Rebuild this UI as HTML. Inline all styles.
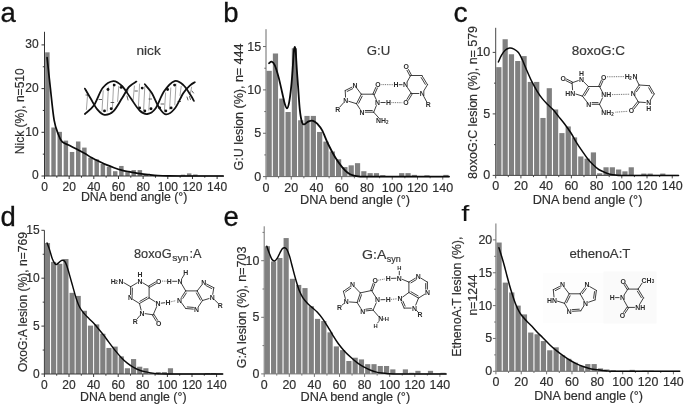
<!DOCTYPE html>
<html lang="en"><head><meta charset="utf-8"><title>DNA bend angle distributions</title>
<style>
html,body{margin:0;padding:0;background:#fff;}
body{width:685px;height:405px;overflow:hidden;font-family:"Liberation Sans",sans-serif;}
svg{display:block;}
svg text{font-family:"Liberation Sans",sans-serif;}
svg .t text{stroke:#2e2e2e;stroke-width:0.18px;}
</style></head><body>
<svg width="685" height="405" viewBox="0 0 685 405" font-family='Liberation Sans, sans-serif' fill="#2e2e2e">
<rect width="685" height="405" fill="#fff"/>
<g id="panel-a" class="t">
<g fill="#808080">
<rect x="45.15" y="52.33" width="4.47" height="123.67"/>
<rect x="51.31" y="127.49" width="4.47" height="48.51"/>
<rect x="57.48" y="131.86" width="4.47" height="44.14"/>
<rect x="63.65" y="140.60" width="4.47" height="35.40"/>
<rect x="69.81" y="151.97" width="4.47" height="24.04"/>
<rect x="75.97" y="141.48" width="4.47" height="34.52"/>
<rect x="82.14" y="147.59" width="4.47" height="28.41"/>
<rect x="88.30" y="157.65" width="4.47" height="18.35"/>
<rect x="94.47" y="159.39" width="4.47" height="16.61"/>
<rect x="100.64" y="163.98" width="4.47" height="12.02"/>
<rect x="106.80" y="166.82" width="4.47" height="9.18"/>
<rect x="112.97" y="171.19" width="4.47" height="4.81"/>
<rect x="119.13" y="165.95" width="4.47" height="10.05"/>
<rect x="125.30" y="171.19" width="4.47" height="4.81"/>
<rect x="131.46" y="170.10" width="4.47" height="5.90"/>
<rect x="137.63" y="170.10" width="4.47" height="5.90"/>
<rect x="143.79" y="174.25" width="4.47" height="1.75"/>
<rect x="149.96" y="175.13" width="4.47" height="0.87"/>
<rect x="180.78" y="174.69" width="4.47" height="1.31"/>
<rect x="186.95" y="173.38" width="4.47" height="2.62"/>
<rect x="193.11" y="174.47" width="4.47" height="1.53"/>
</g>
<g stroke="#333" stroke-width="1" fill="none">
<path d="M44.50,31.79 V176.00 H223.29"/>
<path d="M44.50,176.00 v3 M69.16,176.00 v3 M93.82,176.00 v3 M118.48,176.00 v3 M143.14,176.00 v3 M167.80,176.00 v3 M192.46,176.00 v3 M217.12,176.00 v3 M56.83,176.00 v1.7 M81.49,176.00 v1.7 M106.15,176.00 v1.7 M130.81,176.00 v1.7 M155.47,176.00 v1.7 M180.13,176.00 v1.7 M204.79,176.00 v1.7 M44.50,176.00 h-3 M44.50,132.30 h-3 M44.50,88.60 h-3 M44.50,44.90 h-3 M44.50,154.15 h-1.7 M44.50,110.45 h-1.7 M44.50,66.75 h-1.7"/>
</g>
<path d="M47.09,57.57 C47.58,62.16 48.88,74.69 50.05,85.10 C51.22,95.52 52.70,111.76 54.12,120.06 C55.54,128.37 57.20,131.28 58.56,134.92 C59.91,138.56 60.41,140.15 62.26,141.91 C64.10,143.68 67.19,144.26 69.65,145.50 C72.12,146.74 74.59,148.04 77.05,149.34 C79.52,150.65 81.98,151.91 84.45,153.32 C86.92,154.73 89.38,156.42 91.85,157.78 C94.31,159.14 96.78,160.30 99.25,161.49 C101.71,162.68 104.18,163.87 106.64,164.90 C109.11,165.93 111.58,166.84 114.04,167.70 C116.51,168.56 118.97,169.40 121.44,170.06 C123.91,170.71 125.75,171.04 128.84,171.63 C131.92,172.22 136.52,173.09 139.93,173.60 C143.35,174.11 146.30,174.38 149.31,174.69 C152.31,175.00 154.85,175.28 157.94,175.48 C161.02,175.67 164.10,175.78 167.80,175.87 C171.50,175.96 170.88,175.98 180.13,176.00 C189.38,176.02 216.09,176.00 223.29,176.00" fill="none" stroke="#0a0a0a" stroke-width="1.70" stroke-linejoin="round" stroke-linecap="round"/>
<g font-size="12.00">
<text x="44.50" y="190.70" text-anchor="middle">0</text>
<text x="69.16" y="190.70" text-anchor="middle">20</text>
<text x="93.82" y="190.70" text-anchor="middle">40</text>
<text x="118.48" y="190.70" text-anchor="middle">60</text>
<text x="143.14" y="190.70" text-anchor="middle">80</text>
<text x="167.80" y="190.70" text-anchor="middle">100</text>
<text x="192.46" y="190.70" text-anchor="middle">120</text>
<text x="217.12" y="190.70" text-anchor="middle">140</text>
<text x="38.60" y="179.24" text-anchor="end">0</text>
<text x="38.60" y="135.54" text-anchor="end">10</text>
<text x="38.60" y="91.84" text-anchor="end">20</text>
<text x="38.60" y="48.14" text-anchor="end">30</text>
</g>
<text x="80.90" y="201.20" font-size="12.00" textLength="106.50" lengthAdjust="spacingAndGlyphs">DNA bend angle (°)</text>
<text x="24.30" y="154.20" font-size="12.00" textLength="85.90" lengthAdjust="spacingAndGlyphs" transform="rotate(-90 24.30 154.20)">Nick (%), n=510</text>
<text x="0.50" y="22.40" font-size="27.50" fill="#111" style="stroke:#111;stroke-width:0.3px">a</text>
</g>
<g id="panel-b" class="t">
<g fill="#808080">
<rect x="266.55" y="70.83" width="5.21" height="105.77"/>
<rect x="272.86" y="53.49" width="5.21" height="123.11"/>
<rect x="279.18" y="98.57" width="5.21" height="78.03"/>
<rect x="285.49" y="112.01" width="5.21" height="64.59"/>
<rect x="291.80" y="48.28" width="5.21" height="128.32"/>
<rect x="298.11" y="120.25" width="5.21" height="56.35"/>
<rect x="304.43" y="115.91" width="5.21" height="60.69"/>
<rect x="310.74" y="115.91" width="5.21" height="60.69"/>
<rect x="317.05" y="131.95" width="5.21" height="44.65"/>
<rect x="323.36" y="141.57" width="5.21" height="35.03"/>
<rect x="329.68" y="151.46" width="5.21" height="25.14"/>
<rect x="335.99" y="159.26" width="5.21" height="17.34"/>
<rect x="342.30" y="167.06" width="5.21" height="9.54"/>
<rect x="348.61" y="165.33" width="5.21" height="11.27"/>
<rect x="354.93" y="163.16" width="5.21" height="13.44"/>
<rect x="361.24" y="171.22" width="5.21" height="5.38"/>
<rect x="367.55" y="173.13" width="5.21" height="3.47"/>
<rect x="373.86" y="173.13" width="5.21" height="3.47"/>
<rect x="380.18" y="175.13" width="5.21" height="1.47"/>
<rect x="399.11" y="173.13" width="5.21" height="3.47"/>
<rect x="405.43" y="173.13" width="5.21" height="3.47"/>
<rect x="411.74" y="174.87" width="5.21" height="1.73"/>
<rect x="424.36" y="175.30" width="5.21" height="1.30"/>
<rect x="443.30" y="174.87" width="5.21" height="1.73"/>
</g>
<g stroke="#6a6a6a" stroke-width="1" fill="none">
<path d="M266.00,29.21 V176.60 H449.06"/>
<path d="M266.00,176.60 v3 M291.25,176.60 v3 M316.50,176.60 v3 M341.75,176.60 v3 M367.00,176.60 v3 M392.25,176.60 v3 M417.50,176.60 v3 M442.75,176.60 v3 M278.62,176.60 v1.7 M303.88,176.60 v1.7 M329.12,176.60 v1.7 M354.38,176.60 v1.7 M379.62,176.60 v1.7 M404.88,176.60 v1.7 M430.12,176.60 v1.7 M266.00,176.60 h-3 M266.00,133.25 h-3 M266.00,89.90 h-3 M266.00,46.55 h-3 M266.00,154.92 h-1.7 M266.00,111.57 h-1.7 M266.00,68.22 h-1.7"/>
</g>
<path d="M269.03,63.20 C269.47,62.95 270.71,61.38 271.68,61.72 C272.65,62.07 273.70,62.75 274.84,65.28 C275.97,67.81 277.30,72.44 278.50,76.89 C279.70,81.35 281.00,87.54 282.03,91.98 C283.06,96.42 283.86,100.78 284.69,103.51 C285.51,106.24 286.22,108.51 286.96,108.37 C287.69,108.22 288.39,106.30 289.10,102.64 C289.82,98.99 290.66,92.02 291.25,86.43 C291.84,80.84 292.20,75.02 292.64,69.09 C293.08,63.17 293.54,54.57 293.90,50.88 C294.26,47.20 294.49,46.98 294.79,46.98 C295.08,46.98 295.33,47.20 295.67,50.88 C296.01,54.57 296.41,63.17 296.81,69.09 C297.20,75.02 297.56,79.64 298.07,86.43 C298.57,93.22 299.18,103.87 299.83,109.84 C300.49,115.81 301.24,119.83 301.98,122.24 C302.72,124.65 303.14,124.48 304.25,124.32 C305.37,124.16 307.20,121.88 308.67,121.29 C310.15,120.69 311.62,120.32 313.09,120.77 C314.56,121.21 316.02,122.41 317.51,123.97 C319.00,125.53 320.27,126.75 322.06,130.13 C323.84,133.51 326.03,139.69 328.24,144.26 C330.45,148.83 333.00,153.73 335.31,157.53 C337.63,161.33 340.07,164.53 342.13,167.06 C344.19,169.59 345.73,171.25 347.68,172.70 C349.64,174.14 351.79,175.08 353.87,175.73 C355.95,176.38 356.94,176.46 360.18,176.60 C363.42,176.74 358.50,176.60 373.31,176.60 C388.13,176.60 436.44,176.60 449.06,176.60" fill="none" stroke="#0a0a0a" stroke-width="1.80" stroke-linejoin="round" stroke-linecap="round"/>
<g font-size="12.50">
<text x="266.00" y="191.90" text-anchor="middle">0</text>
<text x="291.25" y="191.90" text-anchor="middle">20</text>
<text x="316.50" y="191.90" text-anchor="middle">40</text>
<text x="341.75" y="191.90" text-anchor="middle">60</text>
<text x="367.00" y="191.90" text-anchor="middle">80</text>
<text x="392.25" y="191.90" text-anchor="middle">100</text>
<text x="417.50" y="191.90" text-anchor="middle">120</text>
<text x="442.75" y="191.90" text-anchor="middle">140</text>
<text x="261.10" y="180.60" text-anchor="end">0</text>
<text x="261.10" y="137.25" text-anchor="end">5</text>
<text x="261.10" y="93.90" text-anchor="end">10</text>
<text x="261.10" y="50.55" text-anchor="end">15</text>
</g>
<text x="300.10" y="204.20" font-size="12.50" textLength="110.00" lengthAdjust="spacingAndGlyphs">DNA bend angle (°)</text>
<text x="243.50" y="170.40" font-size="12.50" textLength="126.90" lengthAdjust="spacingAndGlyphs" transform="rotate(-90 243.50 170.40)">G:U lesion (%), n= 444</text>
<text x="223.30" y="22.40" font-size="27.50" fill="#111" style="stroke:#111;stroke-width:0.3px">b</text>
</g>
<g id="panel-c" class="t">
<g fill="#808080">
<rect x="496.25" y="67.16" width="5.21" height="108.24"/>
<rect x="502.56" y="39.24" width="5.21" height="136.16"/>
<rect x="508.86" y="54.25" width="5.21" height="121.16"/>
<rect x="515.16" y="61.01" width="5.21" height="114.39"/>
<rect x="521.47" y="56.09" width="5.21" height="119.31"/>
<rect x="527.77" y="81.92" width="5.21" height="93.48"/>
<rect x="534.08" y="81.92" width="5.21" height="93.48"/>
<rect x="540.38" y="117.96" width="5.21" height="57.44"/>
<rect x="546.69" y="88.19" width="5.21" height="87.21"/>
<rect x="552.99" y="109.47" width="5.21" height="65.93"/>
<rect x="559.30" y="133.09" width="5.21" height="42.31"/>
<rect x="565.60" y="126.45" width="5.21" height="48.95"/>
<rect x="571.91" y="137.39" width="5.21" height="38.01"/>
<rect x="578.21" y="156.46" width="5.21" height="18.94"/>
<rect x="584.52" y="158.67" width="5.21" height="16.73"/>
<rect x="590.82" y="152.40" width="5.21" height="23.00"/>
<rect x="597.13" y="173.31" width="5.21" height="2.09"/>
<rect x="603.43" y="167.28" width="5.21" height="8.12"/>
<rect x="609.74" y="167.28" width="5.21" height="8.12"/>
<rect x="616.04" y="169.50" width="5.21" height="5.90"/>
<rect x="622.35" y="171.34" width="5.21" height="4.06"/>
<rect x="628.65" y="167.28" width="5.21" height="8.12"/>
<rect x="641.26" y="173.56" width="5.21" height="1.84"/>
<rect x="647.57" y="173.56" width="5.21" height="1.84"/>
<rect x="660.18" y="173.56" width="5.21" height="1.84"/>
</g>
<g stroke="#484848" stroke-width="1" fill="none">
<path d="M495.70,27.80 V175.40 H678.54"/>
<path d="M495.70,175.40 v3 M520.92,175.40 v3 M546.14,175.40 v3 M571.36,175.40 v3 M596.58,175.40 v3 M621.80,175.40 v3 M647.02,175.40 v3 M672.24,175.40 v3 M508.31,175.40 v1.7 M533.53,175.40 v1.7 M558.75,175.40 v1.7 M583.97,175.40 v1.7 M609.19,175.40 v1.7 M634.41,175.40 v1.7 M659.63,175.40 v1.7 M495.70,175.40 h-3 M495.70,113.90 h-3 M495.70,52.40 h-3 M495.70,144.65 h-1.7 M495.70,83.15 h-1.7"/>
</g>
<path d="M498.35,61.99 C498.88,60.87 500.43,57.18 501.56,55.23 C502.70,53.28 503.82,51.50 505.16,50.31 C506.49,49.12 508.10,48.30 509.57,48.09 C511.04,47.89 512.51,48.34 513.98,49.08 C515.46,49.82 516.99,50.70 518.40,52.52 C519.81,54.35 521.05,57.07 522.43,60.03 C523.82,62.98 525.17,66.67 526.72,70.23 C528.28,73.80 530.02,77.92 531.76,81.43 C533.51,84.93 535.40,88.36 537.19,91.27 C538.97,94.18 540.72,96.68 542.48,98.89 C544.25,101.11 545.99,102.73 547.78,104.55 C549.57,106.38 551.42,107.87 553.20,109.84 C554.99,111.81 556.63,114.04 558.50,116.36 C560.37,118.68 562.34,120.97 564.42,123.74 C566.51,126.51 568.96,129.83 570.98,132.97 C573.00,136.10 574.68,139.57 576.53,142.56 C578.38,145.55 580.23,148.24 582.08,150.92 C583.93,153.61 585.78,156.36 587.63,158.67 C589.48,160.99 591.33,163.02 593.18,164.82 C595.02,166.63 596.85,168.27 598.72,169.50 C600.59,170.73 602.53,171.42 604.40,172.20 C606.27,172.98 608.10,173.70 609.95,174.17 C611.80,174.64 613.10,174.83 615.50,175.03 C617.89,175.24 613.81,175.34 624.32,175.40 C634.83,175.46 669.51,175.40 678.54,175.40" fill="none" stroke="#0a0a0a" stroke-width="1.50" stroke-linejoin="round" stroke-linecap="round"/>
<g font-size="12.50">
<text x="495.70" y="190.10" text-anchor="middle">0</text>
<text x="520.92" y="190.10" text-anchor="middle">20</text>
<text x="546.14" y="190.10" text-anchor="middle">40</text>
<text x="571.36" y="190.10" text-anchor="middle">60</text>
<text x="596.58" y="190.10" text-anchor="middle">80</text>
<text x="621.80" y="190.10" text-anchor="middle">100</text>
<text x="647.02" y="190.10" text-anchor="middle">120</text>
<text x="672.24" y="190.10" text-anchor="middle">140</text>
<text x="490.30" y="179.40" text-anchor="end">0</text>
<text x="490.30" y="117.90" text-anchor="end">5</text>
<text x="490.30" y="56.40" text-anchor="end">10</text>
</g>
<text x="532.70" y="203.60" font-size="12.50" textLength="109.70" lengthAdjust="spacingAndGlyphs">DNA bend angle (°)</text>
<text x="477.10" y="178.90" font-size="12.50" textLength="152.90" lengthAdjust="spacingAndGlyphs" transform="rotate(-90 477.10 178.90)">8oxoG:C lesion (%), n= 579</text>
<text x="453.40" y="22.20" font-size="28.30" fill="#111" style="stroke:#111;stroke-width:0.3px">c</text>
</g>
<g id="panel-d" class="t">
<g fill="#808080">
<rect x="44.90" y="243.04" width="5.15" height="130.96"/>
<rect x="51.05" y="261.91" width="5.15" height="112.09"/>
<rect x="57.20" y="263.83" width="5.15" height="110.17"/>
<rect x="63.35" y="259.04" width="5.15" height="114.96"/>
<rect x="69.50" y="292.86" width="5.15" height="81.14"/>
<rect x="75.65" y="295.92" width="5.15" height="78.08"/>
<rect x="81.80" y="310.77" width="5.15" height="63.23"/>
<rect x="87.95" y="325.62" width="5.15" height="48.38"/>
<rect x="94.10" y="324.38" width="5.15" height="49.62"/>
<rect x="100.25" y="333.76" width="5.15" height="40.24"/>
<rect x="106.40" y="347.94" width="5.15" height="26.06"/>
<rect x="112.55" y="346.60" width="5.15" height="27.40"/>
<rect x="118.70" y="356.37" width="5.15" height="17.63"/>
<rect x="124.85" y="368.25" width="5.15" height="5.75"/>
<rect x="131.00" y="359.06" width="5.15" height="14.94"/>
<rect x="137.15" y="366.72" width="5.15" height="7.28"/>
<rect x="143.30" y="368.25" width="5.15" height="5.75"/>
<rect x="149.45" y="372.75" width="5.15" height="1.25"/>
<rect x="155.60" y="372.08" width="5.15" height="1.92"/>
<rect x="161.75" y="372.08" width="5.15" height="1.92"/>
<rect x="167.90" y="368.25" width="5.15" height="5.75"/>
<rect x="204.80" y="373.04" width="5.15" height="0.96"/>
<rect x="210.95" y="373.04" width="5.15" height="0.96"/>
</g>
<g stroke="#3a3a3a" stroke-width="1" fill="none">
<path d="M44.40,230.30 V374.00 H222.75"/>
<path d="M44.40,374.00 v3 M69.00,374.00 v3 M93.60,374.00 v3 M118.20,374.00 v3 M142.80,374.00 v3 M167.40,374.00 v3 M192.00,374.00 v3 M216.60,374.00 v3 M56.70,374.00 v1.7 M81.30,374.00 v1.7 M105.90,374.00 v1.7 M130.50,374.00 v1.7 M155.10,374.00 v1.7 M179.70,374.00 v1.7 M204.30,374.00 v1.7 M44.40,374.00 h-3 M44.40,326.10 h-3 M44.40,278.20 h-3 M44.40,230.30 h-3 M44.40,350.05 h-1.7 M44.40,302.15 h-1.7 M44.40,254.25 h-1.7"/>
</g>
<path d="M47.11,243.04 C47.54,244.22 48.81,247.46 49.69,250.13 C50.57,252.80 51.51,256.76 52.39,259.04 C53.28,261.32 54.26,262.94 54.98,263.83 C55.70,264.72 55.96,264.69 56.70,264.40 C57.44,264.12 58.50,262.79 59.41,262.11 C60.31,261.42 61.23,260.41 62.11,260.29 C62.99,260.16 63.92,260.43 64.69,261.34 C65.47,262.25 66.01,263.57 66.79,265.75 C67.56,267.92 68.39,270.97 69.37,274.37 C70.35,277.77 71.54,282.11 72.69,286.15 C73.84,290.19 75.07,295.04 76.26,298.61 C77.45,302.17 78.49,305.01 79.82,307.51 C81.16,310.02 82.67,311.75 84.25,313.65 C85.83,315.55 87.68,317.27 89.29,318.92 C90.91,320.56 92.31,321.71 93.97,323.51 C95.63,325.32 97.58,327.71 99.26,329.74 C100.94,331.77 102.50,333.65 104.06,335.68 C105.61,337.71 106.80,339.50 108.61,341.91 C110.41,344.32 112.79,347.56 114.88,350.15 C116.97,352.73 119.08,355.26 121.15,357.43 C123.22,359.60 125.23,361.51 127.30,363.17 C129.37,364.84 131.50,366.21 133.57,367.39 C135.65,368.57 137.65,369.51 139.72,370.26 C141.80,371.01 143.91,371.41 146.00,371.89 C148.09,372.37 150.20,372.82 152.27,373.14 C154.34,373.46 155.90,373.66 158.42,373.81 C160.94,373.95 156.68,373.97 167.40,374.00 C178.12,374.03 213.53,374.00 222.75,374.00" fill="none" stroke="#0a0a0a" stroke-width="1.45" stroke-linejoin="round" stroke-linecap="round"/>
<g font-size="12.00">
<text x="44.40" y="388.90" text-anchor="middle">0</text>
<text x="69.00" y="388.90" text-anchor="middle">20</text>
<text x="93.60" y="388.90" text-anchor="middle">40</text>
<text x="118.20" y="388.90" text-anchor="middle">60</text>
<text x="142.80" y="388.90" text-anchor="middle">80</text>
<text x="167.40" y="388.90" text-anchor="middle">100</text>
<text x="192.00" y="388.90" text-anchor="middle">120</text>
<text x="216.60" y="388.90" text-anchor="middle">140</text>
<text x="39.60" y="377.84" text-anchor="end">0</text>
<text x="39.60" y="329.94" text-anchor="end">5</text>
<text x="39.60" y="282.04" text-anchor="end">10</text>
<text x="39.60" y="234.14" text-anchor="end">15</text>
</g>
<text x="80.10" y="400.50" font-size="12.00" textLength="106.40" lengthAdjust="spacingAndGlyphs">DNA bend angle (°)</text>
<text x="27.10" y="372.10" font-size="12.00" textLength="140.10" lengthAdjust="spacingAndGlyphs" transform="rotate(-90 27.10 372.10)">OxoG:A lesion (%), n=769</text>
<text x="0.50" y="226.00" font-size="27.50" fill="#111" style="stroke:#111;stroke-width:0.3px">d</text>
</g>
<g id="panel-e" class="t">
<g fill="#808080">
<rect x="264.75" y="246.21" width="5.17" height="127.69"/>
<rect x="271.02" y="261.49" width="5.17" height="112.41"/>
<rect x="277.30" y="257.98" width="5.17" height="115.92"/>
<rect x="283.57" y="238.06" width="5.17" height="135.84"/>
<rect x="289.85" y="278.81" width="5.17" height="95.09"/>
<rect x="296.12" y="284.92" width="5.17" height="88.98"/>
<rect x="302.40" y="288.09" width="5.17" height="85.81"/>
<rect x="308.68" y="306.21" width="5.17" height="67.69"/>
<rect x="314.95" y="318.88" width="5.17" height="55.02"/>
<rect x="321.22" y="321.04" width="5.17" height="52.86"/>
<rect x="327.50" y="332.36" width="5.17" height="41.54"/>
<rect x="333.77" y="346.39" width="5.17" height="27.51"/>
<rect x="340.05" y="350.13" width="5.17" height="23.77"/>
<rect x="346.32" y="361.00" width="5.17" height="12.90"/>
<rect x="352.60" y="357.71" width="5.17" height="16.19"/>
<rect x="358.88" y="359.41" width="5.17" height="14.49"/>
<rect x="365.15" y="364.16" width="5.17" height="9.74"/>
<rect x="371.43" y="364.16" width="5.17" height="9.74"/>
<rect x="377.70" y="365.98" width="5.17" height="7.92"/>
<rect x="383.97" y="365.98" width="5.17" height="7.92"/>
<rect x="390.25" y="369.37" width="5.17" height="4.53"/>
<rect x="402.80" y="369.37" width="5.17" height="4.53"/>
<rect x="409.07" y="372.77" width="5.17" height="1.13"/>
<rect x="415.35" y="370.84" width="5.17" height="3.06"/>
<rect x="427.90" y="370.84" width="5.17" height="3.06"/>
<rect x="440.45" y="372.77" width="5.17" height="1.13"/>
</g>
<g stroke="#757575" stroke-width="1" fill="none">
<path d="M264.20,226.29 V373.90 H446.17"/>
<path d="M264.20,373.90 v3 M289.30,373.90 v3 M314.40,373.90 v3 M339.50,373.90 v3 M364.60,373.90 v3 M389.70,373.90 v3 M414.80,373.90 v3 M439.90,373.90 v3 M276.75,373.90 v1.7 M301.85,373.90 v1.7 M326.95,373.90 v1.7 M352.05,373.90 v1.7 M377.15,373.90 v1.7 M402.25,373.90 v1.7 M427.35,373.90 v1.7 M264.20,373.90 h-3 M264.20,317.30 h-3 M264.20,260.70 h-3 M264.20,345.60 h-1.7 M264.20,289.00 h-1.7 M264.20,232.40 h-1.7"/>
</g>
<path d="M266.84,246.32 C267.23,247.44 268.38,250.85 269.22,253.00 C270.06,255.15 270.98,257.89 271.86,259.23 C272.73,260.57 273.61,261.17 274.49,261.04 C275.37,260.91 276.23,259.78 277.13,258.44 C278.03,257.10 278.99,254.64 279.89,253.00 C280.79,251.36 281.71,249.47 282.52,248.59 C283.34,247.70 284.05,247.53 284.78,247.68 C285.51,247.83 286.10,248.00 286.92,249.49 C287.73,250.98 288.82,253.91 289.68,256.62 C290.53,259.34 291.27,262.76 292.06,265.79 C292.86,268.83 293.67,272.02 294.45,274.85 C295.22,277.68 295.89,280.11 296.70,282.77 C297.52,285.43 298.29,288.28 299.34,290.81 C300.39,293.34 301.64,295.87 302.98,297.94 C304.32,300.02 305.89,301.70 307.37,303.26 C308.86,304.83 310.26,305.87 311.89,307.34 C313.52,308.81 315.38,310.21 317.16,312.09 C318.94,313.98 320.82,316.28 322.56,318.66 C324.29,321.04 325.90,323.66 327.58,326.36 C329.25,329.05 330.80,331.94 332.60,334.85 C334.40,337.75 336.38,341.07 338.37,343.79 C340.36,346.51 342.45,348.90 344.52,351.15 C346.59,353.39 348.70,355.35 350.79,357.26 C352.89,359.17 355.00,361.01 357.07,362.58 C359.14,364.15 361.15,365.47 363.22,366.66 C365.29,367.84 367.42,368.84 369.49,369.71 C371.57,370.58 373.57,371.30 375.64,371.86 C377.71,372.43 379.83,372.81 381.92,373.11 C384.01,373.41 385.85,373.54 388.19,373.67 C390.54,373.81 386.31,373.86 395.97,373.90 C405.64,373.94 437.81,373.90 446.17,373.90" fill="none" stroke="#0a0a0a" stroke-width="1.50" stroke-linejoin="round" stroke-linecap="round"/>
<g font-size="12.40">
<text x="264.20" y="388.90" text-anchor="middle">0</text>
<text x="289.30" y="388.90" text-anchor="middle">20</text>
<text x="314.40" y="388.90" text-anchor="middle">40</text>
<text x="339.50" y="388.90" text-anchor="middle">60</text>
<text x="364.60" y="388.90" text-anchor="middle">80</text>
<text x="389.70" y="388.90" text-anchor="middle">100</text>
<text x="414.80" y="388.90" text-anchor="middle">120</text>
<text x="439.90" y="388.90" text-anchor="middle">140</text>
<text x="259.30" y="377.87" text-anchor="end">0</text>
<text x="259.30" y="321.27" text-anchor="end">5</text>
<text x="259.30" y="264.67" text-anchor="end">10</text>
</g>
<text x="300.60" y="400.50" font-size="12.40" textLength="109.60" lengthAdjust="spacingAndGlyphs">DNA bend angle (°)</text>
<text x="245.90" y="368.30" font-size="12.40" textLength="121.70" lengthAdjust="spacingAndGlyphs" transform="rotate(-90 245.90 368.30)">G:A lesion (%), n=703</text>
<text x="223.60" y="226.30" font-size="27.50" fill="#111" style="stroke:#111;stroke-width:0.3px">e</text>
</g>
<g id="panel-f" class="t">
<g fill="#808080">
<rect x="496.45" y="242.53" width="5.24" height="128.77"/>
<rect x="502.79" y="282.61" width="5.24" height="88.70"/>
<rect x="509.13" y="292.46" width="5.24" height="78.84"/>
<rect x="515.47" y="305.60" width="5.24" height="65.70"/>
<rect x="521.81" y="314.40" width="5.24" height="56.90"/>
<rect x="528.15" y="332.54" width="5.24" height="38.76"/>
<rect x="534.49" y="334.25" width="5.24" height="37.05"/>
<rect x="540.83" y="341.08" width="5.24" height="30.22"/>
<rect x="547.17" y="350.28" width="5.24" height="21.02"/>
<rect x="553.51" y="347.32" width="5.24" height="23.98"/>
<rect x="559.85" y="355.27" width="5.24" height="16.03"/>
<rect x="566.19" y="358.82" width="5.24" height="12.48"/>
<rect x="572.53" y="362.63" width="5.24" height="8.67"/>
<rect x="578.87" y="366.04" width="5.24" height="5.26"/>
<rect x="585.21" y="364.07" width="5.24" height="7.23"/>
<rect x="591.55" y="364.07" width="5.24" height="7.23"/>
<rect x="597.89" y="368.41" width="5.24" height="2.89"/>
<rect x="604.23" y="369.46" width="5.24" height="1.84"/>
<rect x="610.57" y="370.31" width="5.24" height="0.99"/>
<rect x="616.91" y="370.97" width="5.24" height="0.33"/>
<rect x="623.25" y="370.97" width="5.24" height="0.33"/>
<rect x="629.59" y="369.85" width="5.24" height="1.45"/>
<rect x="642.27" y="370.64" width="5.24" height="0.66"/>
<rect x="648.61" y="370.64" width="5.24" height="0.66"/>
</g>
<g stroke="#707070" stroke-width="1" fill="none">
<path d="M495.90,223.47 V371.30 H679.76"/>
<path d="M495.90,371.30 v3 M521.26,371.30 v3 M546.62,371.30 v3 M571.98,371.30 v3 M597.34,371.30 v3 M622.70,371.30 v3 M648.06,371.30 v3 M673.42,371.30 v3 M508.58,371.30 v1.7 M533.94,371.30 v1.7 M559.30,371.30 v1.7 M584.66,371.30 v1.7 M610.02,371.30 v1.7 M635.38,371.30 v1.7 M660.74,371.30 v1.7 M495.90,371.30 h-3 M495.90,338.45 h-3 M495.90,305.60 h-3 M495.90,272.75 h-3 M495.90,239.90 h-3 M495.90,354.88 h-1.7 M495.90,322.02 h-1.7 M495.90,289.18 h-1.7 M495.90,256.32 h-1.7"/>
</g>
<path d="M498.94,247.78 C499.39,249.21 500.72,253.37 501.61,256.32 C502.49,259.28 503.38,262.29 504.27,265.52 C505.16,268.75 506.04,272.39 506.93,275.71 C507.82,279.02 508.71,282.33 509.59,285.43 C510.48,288.53 511.37,291.49 512.26,294.30 C513.14,297.11 514.03,299.94 514.92,302.31 C515.81,304.69 516.55,306.48 517.58,308.56 C518.62,310.64 519.63,312.73 521.13,314.80 C522.63,316.87 524.79,319.06 526.59,320.97 C528.38,322.89 530.14,324.42 531.91,326.30 C533.69,328.17 535.46,330.35 537.24,332.21 C539.01,334.07 540.49,335.38 542.56,337.46 C544.63,339.54 547.30,342.45 549.66,344.69 C552.03,346.94 554.42,349.02 556.76,350.93 C559.11,352.85 561.54,354.63 563.74,356.19 C565.94,357.74 567.88,359.03 569.95,360.26 C572.02,361.50 574.09,362.61 576.16,363.61 C578.24,364.62 580.31,365.54 582.38,366.31 C584.45,367.07 586.52,367.69 588.59,368.21 C590.66,368.74 592.73,369.12 594.80,369.46 C596.88,369.80 598.95,370.01 601.02,370.25 C603.09,370.49 604.67,370.73 607.23,370.91 C609.79,371.08 604.27,371.23 616.36,371.30 C628.45,371.37 669.19,371.30 679.76,371.30" fill="none" stroke="#0a0a0a" stroke-width="1.50" stroke-linejoin="round" stroke-linecap="round"/>
<g font-size="12.40">
<text x="495.90" y="386.40" text-anchor="middle">0</text>
<text x="521.26" y="386.40" text-anchor="middle">20</text>
<text x="546.62" y="386.40" text-anchor="middle">40</text>
<text x="571.98" y="386.40" text-anchor="middle">60</text>
<text x="597.34" y="386.40" text-anchor="middle">80</text>
<text x="622.70" y="386.40" text-anchor="middle">100</text>
<text x="648.06" y="386.40" text-anchor="middle">120</text>
<text x="673.42" y="386.40" text-anchor="middle">140</text>
<text x="492.20" y="375.27" text-anchor="end">0</text>
<text x="492.20" y="342.42" text-anchor="end">5</text>
<text x="492.20" y="309.57" text-anchor="end">10</text>
<text x="492.20" y="276.72" text-anchor="end">15</text>
<text x="492.20" y="243.87" text-anchor="end">20</text>
</g>
<text x="534.20" y="399.90" font-size="12.40" textLength="108.90" lengthAdjust="spacingAndGlyphs">DNA bend angle (°)</text>
<text x="461.50" y="356.70" font-size="12.40" textLength="120.10" lengthAdjust="spacingAndGlyphs" transform="rotate(-90 461.50 356.70)">EthenoA:T lesion (%),</text>
<text x="476.90" y="315.50" font-size="12.40" textLength="41.00" lengthAdjust="spacingAndGlyphs" transform="rotate(-90 476.90 315.50)">n=1244</text>
</g>
<text transform="translate(461.3,221) scale(1.36,1)" font-size="21.5" fill="#111">f</text>
<g class="t">
<text x="136.50" y="55.40" font-size="13.20" textLength="24.20" lengthAdjust="spacingAndGlyphs" fill="#3a3a3a">nick</text>
<text x="366.80" y="55.40" font-size="13.20" textLength="23.50" lengthAdjust="spacingAndGlyphs" fill="#3a3a3a">G:U</text>
<text x="571.80" y="54.60" font-size="13.20" textLength="53.20" lengthAdjust="spacingAndGlyphs" fill="#3a3a3a">8oxoG:C</text>
<text x="134.00" y="258.30" font-size="13.20" textLength="37.60" lengthAdjust="spacingAndGlyphs" fill="#3a3a3a">8oxoG</text>
<text x="172.30" y="261.30" font-size="9.50" textLength="16.20" lengthAdjust="spacingAndGlyphs" fill="#3a3a3a">syn</text>
<text x="189.40" y="258.30" font-size="13.20" textLength="12.00" lengthAdjust="spacingAndGlyphs" fill="#3a3a3a">:A</text>
<text x="362.10" y="258.80" font-size="13.20" textLength="24.40" lengthAdjust="spacingAndGlyphs" fill="#3a3a3a">G:A</text>
<text x="386.70" y="261.80" font-size="9.50" textLength="14.00" lengthAdjust="spacingAndGlyphs" fill="#3a3a3a">syn</text>
<text x="569.40" y="257.60" font-size="13.20" textLength="61.00" lengthAdjust="spacingAndGlyphs" fill="#3a3a3a">ethenoA:T</text>
</g>
<g id="helix" fill="none" stroke="#111" stroke-linecap="round">
<path d="M87.6,94.7 L86.4,109.5 M103.2,90.7 L102.0,111.0 M108.4,87.1 L107.2,111.1 M113.6,83.8 L112.4,109.0 M118.8,86.4 L117.6,101.5 M134.4,86.0 L133.2,100.0 M139.6,84.0 L138.4,107.2 M144.8,86.4 L143.6,110.1 M150.0,92.5 L148.8,110.2 M165.6,92.9 L164.4,111.1 M170.8,87.9 L169.6,109.1 M176.0,84.0 L174.8,104.9 M181.2,86.3 L180.0,95.5 M191.6,87.2 L190.4,93.3" stroke="#666" stroke-width="0.6"/>
<path d="M86,95 h2.5 M99,99.5 h2.6 M111,102.5 h2.8 M127,96 l1,4 M126,92 l2,-1 M149,99 h2.6 M135,91 h2.4 M161,104 h2.8 M178,101.5 h2.6 M187,97 l1,3 M189.5,96.5 l1,3 M192,91 l1.5,2" stroke="#333" stroke-width="0.8"/>
<path d="M84.90,114.00 C86.42,112.55 91.02,109.67 94.00,105.30 C96.98,100.93 99.58,91.83 102.80,87.80 C106.02,83.77 110.10,81.40 113.30,81.10 C116.50,80.80 119.08,83.13 122.00,86.00 C124.92,88.87 127.87,94.22 130.80,98.30 C133.73,102.38 136.83,107.88 139.60,110.50 C142.37,113.12 144.78,114.28 147.40,114.00 C150.02,113.72 152.52,112.58 155.30,108.80 C158.08,105.02 160.88,95.92 164.10,91.30 C167.32,86.68 171.38,82.13 174.60,81.10 C177.82,80.07 180.77,82.82 183.40,85.10 C186.03,87.38 188.65,92.17 190.40,94.80 C192.15,97.43 193.32,99.88 193.90,100.90" stroke-width="1.8"/>
<path d="M84.90,88.60 C85.83,90.22 88.40,94.78 90.50,98.30 C92.60,101.82 95.17,106.93 97.50,109.70 C99.83,112.47 101.87,114.62 104.50,114.90 C107.13,115.18 110.38,114.17 113.30,111.40 C116.22,108.63 119.38,102.38 122.00,98.30 C124.62,94.22 126.60,89.68 129.00,86.90 C131.40,84.12 135.17,82.48 136.40,81.60" stroke-width="1.8"/>
<path d="M144.80,84.30 C145.97,85.75 149.47,89.22 151.80,93.00 C154.13,96.78 156.47,103.43 158.80,107.00 C161.13,110.57 163.17,114.10 165.80,114.40 C168.43,114.70 171.67,112.37 174.60,108.80 C177.53,105.23 180.77,96.95 183.40,93.00 C186.03,89.05 188.50,86.90 190.40,85.10 C192.30,83.30 194.07,82.68 194.80,82.20" stroke-width="1.8"/>
<g fill="#111" stroke="none">
<circle cx="108.0" cy="89.5" r="1.45"/>
<circle cx="114.2" cy="85.1" r="1.45"/>
<circle cx="121.2" cy="87.4" r="1.45"/>
<circle cx="104.5" cy="110.9" r="1.45"/>
<circle cx="111.2" cy="108.8" r="1.45"/>
<circle cx="142.2" cy="88.1" r="1.45"/>
<circle cx="139.6" cy="107.9" r="1.45"/>
<circle cx="144.8" cy="110.9" r="1.45"/>
<circle cx="151.0" cy="108.8" r="1.45"/>
<circle cx="167.6" cy="89.5" r="1.45"/>
<circle cx="174.6" cy="85.1" r="1.45"/>
<circle cx="159.7" cy="107.9" r="1.45"/>
<circle cx="165.8" cy="110.9" r="1.45"/>
<circle cx="171.1" cy="107.9" r="1.45"/>
</g>
</g>
<g stroke="#2a2a2a" stroke-width="0.9" fill="none" stroke-linecap="round">
<path d="M351.94,87.16 L345.20,90.50 M352.70,88.69 L347.21,91.40 M345.20,90.50 L345.53,97.10 M348.86,101.36 L356.50,103.70 M356.50,103.70 L361.30,94.20 M358.65,103.22 L362.19,96.22 M361.30,94.20 L356.88,88.34 M361.30,94.20 L373.70,94.20 M374.48,94.55 L377.43,87.96 M372.92,93.85 L375.88,87.26 M373.70,94.20 L376.20,99.51 M376.37,105.56 L373.70,112.20 M373.70,112.20 L365.30,112.20 M372.30,110.50 L365.30,110.50 M360.21,109.43 L356.50,103.70 M373.70,112.20 L379.31,118.53 M343.51,102.87 L339.89,106.93 M380.90,102.50 L385.20,102.50 M411.45,75.10 L408.50,69.52 M409.95,75.90 L406.99,70.31 M410.70,75.50 L421.90,75.50 M421.90,75.50 L427.50,84.70 M421.18,77.58 L425.32,84.39 M427.50,84.70 L423.90,90.67 M418.90,93.50 L411.50,93.50 M410.77,93.06 L406.89,99.44 M412.23,93.94 L408.34,100.32 M411.50,93.50 L407.36,87.43 M407.12,81.83 L410.70,75.50 M423.77,96.40 L426.73,101.90 M402.20,84.70 L399.20,84.70"/>
<path d="M381.50,84.60 L393.00,84.70" stroke-dasharray="0.9 0.9" stroke-linecap="butt" stroke-width="0.9" stroke="#555"/>
<path d="M391.50,102.60 L402.50,102.70" stroke-dasharray="0.9 0.9" stroke-linecap="butt" stroke-width="0.9" stroke="#555"/>
</g>
<g font-size="6.9" font-weight="bold" fill="#2a2a2a" text-anchor="middle">
<text x="354.90" y="88.18">N</text>
<text x="345.70" y="102.88">N</text>
<text x="337.70" y="111.88">R</text>
<text x="378.00" y="87.08">O</text>
<text x="377.60" y="104.98">N</text>
<text x="388.50" y="104.98">H</text>
<text x="362.00" y="114.68">N</text>
<text x="381.00" y="123.48">NH</text>
<text x="387.30" y="124.22" font-size="4.5">2</text>
<text x="406.20" y="69.48">O</text>
<text x="422.20" y="95.98">N</text>
<text x="428.30" y="107.28">R</text>
<text x="405.90" y="105.18">O</text>
<text x="405.50" y="87.18">N</text>
<text x="395.90" y="87.18">H</text>
</g>
<g stroke="#2a2a2a" stroke-width="0.9" fill="none" stroke-linecap="round">
<path d="M572.48,82.04 L566.53,79.03 M571.72,83.56 L565.76,80.55 M572.10,82.80 L578.29,80.60 M572.10,82.80 L572.58,89.81 M575.95,94.08 L582.40,96.10 M582.40,96.10 L588.40,86.50 M584.58,95.81 L589.10,88.59 M588.40,86.50 L583.73,81.83 M588.40,86.50 L599.50,86.50 M600.28,86.85 L603.03,80.66 M598.72,86.15 L601.48,79.97 M599.50,86.50 L602.37,91.98 M602.50,97.89 L599.50,104.30 M599.50,104.30 L592.10,104.30 M598.10,102.60 L592.10,102.60 M586.77,101.70 L582.40,96.10 M599.50,104.30 L602.37,109.78 M639.10,85.00 L636.16,79.06 M639.10,85.00 L649.50,85.70 M649.50,85.70 L654.20,93.90 M648.72,87.76 L652.03,93.53 M654.20,93.90 L650.43,99.99 M645.41,102.54 L638.40,102.00 M637.73,101.47 L632.77,107.78 M639.07,102.53 L634.11,108.83 M638.40,102.00 L634.91,96.22 M635.10,90.70 L639.10,85.00 M636.49,91.68 L639.69,87.12"/>
<path d="M607.00,76.80 L624.00,76.60" stroke-dasharray="0.9 0.9" stroke-linecap="butt" stroke-width="0.9" stroke="#555"/>
<path d="M612.00,94.60 L630.00,94.20" stroke-dasharray="0.9 0.9" stroke-linecap="butt" stroke-width="0.9" stroke="#555"/>
<path d="M615.50,112.20 L628.00,111.30" stroke-dasharray="0.9 0.9" stroke-linecap="butt" stroke-width="0.9" stroke="#555"/>
</g>
<g font-size="6.9" font-weight="bold" fill="#2a2a2a" text-anchor="middle">
<text x="563.20" y="80.78">O</text>
<text x="581.40" y="81.98">N</text>
<text x="581.40" y="75.68">H</text>
<text x="572.80" y="95.58">N</text>
<text x="567.80" y="95.58">H</text>
<text x="603.60" y="79.78">O</text>
<text x="606.30" y="97.38">NH</text>
<text x="588.80" y="106.78">N</text>
<text x="606.30" y="115.18">NH</text>
<text x="612.60" y="115.92" font-size="4.5">2</text>
<text x="627.20" y="79.08">H</text>
<text x="630.60" y="79.82" font-size="4.5">2</text>
<text x="634.90" y="78.58">N</text>
<text x="648.70" y="105.28">N</text>
<text x="648.70" y="111.48">H</text>
<text x="631.40" y="113.38">O</text>
<text x="633.20" y="95.88">N</text>
</g>
<g stroke="#2a2a2a" stroke-width="0.9" fill="none" stroke-linecap="round">
<path d="M123.95,282.76 L130.70,286.70 M130.70,286.70 L137.17,282.80 M142.81,282.83 L149.10,286.70 M149.52,287.44 L156.37,283.49 M148.68,285.96 L155.52,282.01 M149.10,286.70 L149.10,297.90 M149.10,297.90 L139.50,303.50 M147.03,297.14 L139.85,301.33 M139.50,303.50 L133.21,299.63 M130.49,294.60 L130.70,286.70 M132.19,294.65 L132.36,288.15 M149.10,297.90 L155.21,301.74 M156.71,306.54 L153.20,314.80 M152.48,315.26 L156.31,321.27 M153.92,314.34 L157.75,320.36 M153.20,314.80 L145.17,313.66 M141.11,310.00 L139.50,303.50 M139.78,315.73 L137.32,318.67 M161.28,303.14 L164.72,302.76 M181.76,284.15 L185.70,290.90 M181.86,278.51 L183.94,275.19 M176.80,281.30 L172.60,281.30 M185.70,290.90 L197.20,290.90 M197.20,290.90 L201.68,285.11 M206.63,284.01 L213.80,287.70 M205.86,285.52 L211.78,288.57 M213.80,287.70 L212.73,294.34 M209.04,298.55 L202.50,300.50 M202.50,300.50 L197.20,290.90 M200.34,300.10 L196.39,292.95 M202.50,300.50 L198.42,306.65 M193.31,309.13 L185.70,308.50 M193.45,307.43 L187.24,306.92 M185.70,308.50 L181.55,302.86 M181.41,297.44 L185.70,290.90 M182.83,298.37 L186.35,293.00 M214.58,299.89 L217.82,303.01"/>
<path d="M162.00,281.10 L166.60,281.20" stroke-dasharray="0.9 0.9" stroke-linecap="butt" stroke-width="0.9" stroke="#555"/>
<path d="M170.80,301.80 L176.00,300.60" stroke-dasharray="0.9 0.9" stroke-linecap="butt" stroke-width="0.9" stroke="#555"/>
</g>
<g font-size="6.9" font-weight="bold" fill="#2a2a2a" text-anchor="middle">
<text x="113.20" y="283.58">H</text>
<text x="116.60" y="284.32" font-size="4.5">2</text>
<text x="121.10" y="283.58">N</text>
<text x="140.00" y="283.58">N</text>
<text x="140.00" y="277.38">H</text>
<text x="158.80" y="283.58">O</text>
<text x="130.40" y="300.38">N</text>
<text x="158.00" y="305.98">N</text>
<text x="168.00" y="304.88">H</text>
<text x="158.80" y="326.08">O</text>
<text x="141.90" y="315.68">N</text>
<text x="135.20" y="323.68">R</text>
<text x="180.10" y="283.78">N</text>
<text x="185.70" y="274.88">H</text>
<text x="169.30" y="283.78">H</text>
<text x="203.70" y="284.98">N</text>
<text x="212.20" y="300.08">N</text>
<text x="220.20" y="307.78">R</text>
<text x="196.60" y="311.88">N</text>
<text x="179.60" y="302.68">N</text>
</g>
<g stroke="#2a2a2a" stroke-width="0.9" fill="none" stroke-linecap="round">
<path d="M349.89,286.78 L343.40,291.30 M350.86,288.18 L345.52,291.90 M343.40,291.30 L345.34,298.51 M349.49,301.94 L357.10,302.50 M357.10,302.50 L360.30,292.90 M359.16,301.71 L361.47,294.77 M360.30,292.90 L354.89,287.28 M360.30,292.90 L371.50,290.50 M372.30,290.79 L374.78,283.89 M370.70,290.21 L373.18,283.32 M371.50,290.50 L375.79,297.04 M376.28,302.82 L373.10,310.10 M373.10,310.10 L365.98,310.92 M371.51,308.57 L365.78,309.23 M360.93,308.52 L357.10,302.50 M373.10,310.10 L378.64,316.50 M343.65,303.80 L341.95,305.20 M380.90,299.71 L384.90,299.59 M384.10,319.00 L383.50,319.00 M378.71,321.56 L377.59,322.94 M402.35,279.37 L408.90,282.10 M399.30,274.80 L399.30,271.30 M396.00,278.22 L391.50,278.38 M408.90,282.10 L415.37,278.20 M410.98,282.83 L416.25,279.66 M421.02,278.22 L427.40,282.10 M427.40,282.10 L427.40,289.20 M425.70,283.50 L425.70,289.20 M424.61,294.26 L418.50,298.10 M418.50,298.10 L408.90,292.50 M418.15,295.93 L410.97,291.74 M408.90,292.50 L408.90,282.10 M408.90,292.50 L402.77,296.96 M401.42,301.93 L404.10,308.10 M402.97,301.25 L405.10,306.14 M404.10,308.10 L411.20,308.10 M415.73,305.04 L418.50,298.10 M416.67,310.58 L417.93,312.02"/>
<path d="M378.40,280.20 L385.20,278.90" stroke-dasharray="0.9 0.9" stroke-linecap="butt" stroke-width="0.9" stroke="#555"/>
<path d="M391.20,299.40 L397.00,298.80" stroke-dasharray="0.9 0.9" stroke-linecap="butt" stroke-width="0.9" stroke="#555"/>
</g>
<g font-size="6.9" font-weight="bold" fill="#2a2a2a" text-anchor="middle">
<text x="352.60" y="287.38">N</text>
<text x="346.20" y="304.18">N</text>
<text x="339.40" y="309.78">R</text>
<text x="375.10" y="282.98">O</text>
<text x="377.60" y="302.28">N</text>
<text x="388.20" y="301.98">H</text>
<text x="362.70" y="313.78">N</text>
<text x="380.80" y="321.48">N</text>
<text x="386.80" y="321.09" font-size="5.8">H</text>
<text x="375.50" y="327.59" font-size="5.8">H</text>
<text x="399.30" y="280.58">N</text>
<text x="399.30" y="270.09" font-size="5.8">H</text>
<text x="388.20" y="280.98">H</text>
<text x="418.20" y="278.98">N</text>
<text x="427.40" y="294.98">N</text>
<text x="400.10" y="301.38">N</text>
<text x="414.50" y="310.58">N</text>
<text x="420.10" y="316.98">R</text>
</g>
<rect x="543" y="273" width="67" height="50" fill="#fdfdfd"/>
<rect x="603.5" y="271.5" width="53" height="52" fill="#fafafa"/>
<g stroke="#2a2a2a" stroke-width="0.9" fill="none" stroke-linecap="round">
<path d="M559.47,286.51 L553.30,289.70 M560.25,288.02 L555.32,290.57 M553.30,289.70 L553.99,296.91 M557.46,301.16 L564.50,303.30 M564.50,303.30 L569.20,293.80 M566.64,302.80 L570.10,295.81 M569.20,293.80 L564.42,287.61 M569.20,293.80 L580.10,293.80 M580.10,293.80 L584.88,287.61 M582.30,293.73 L586.23,288.65 M589.77,286.63 L596.40,290.40 M596.40,290.40 L595.10,299.90 M594.53,291.56 L593.61,298.28 M595.10,299.90 L588.61,302.20 M583.87,300.43 L580.10,293.80 M583.75,306.10 L580.80,310.80 M580.80,310.80 L572.49,311.30 M579.30,309.19 L572.39,309.60 M567.56,308.64 L564.50,303.30 M628.63,288.66 L625.54,283.58 M627.17,289.54 L624.09,284.46 M627.90,289.10 L638.10,289.10 M638.10,289.10 L643.50,297.90 M637.38,291.18 L641.32,297.60 M638.10,289.10 L641.96,283.34 M643.50,297.90 L639.50,304.57 M634.50,307.40 L627.90,307.40 M627.19,306.93 L623.53,312.39 M628.61,307.87 L624.94,313.33 M627.90,307.40 L624.02,300.48 M624.19,294.83 L627.90,289.10 M619.10,297.60 L615.50,297.60"/>
</g>
<g font-size="6.9" font-weight="bold" fill="#2a2a2a" text-anchor="middle">
<text x="562.40" y="287.48">N</text>
<text x="554.60" y="302.68">N</text>
<text x="549.40" y="302.68">H</text>
<text x="586.90" y="287.48">N</text>
<text x="585.50" y="305.78">N</text>
<text x="569.20" y="313.98">N</text>
<text x="623.10" y="283.68">O</text>
<text x="646.60" y="282.68">CH</text>
<text x="653.00" y="283.42" font-size="4.5">3</text>
<text x="640.20" y="309.88">NH</text>
<text x="622.40" y="318.08">O</text>
<text x="622.40" y="300.08">N</text>
<text x="612.20" y="300.08">H</text>
</g>
</svg>
</body></html>
